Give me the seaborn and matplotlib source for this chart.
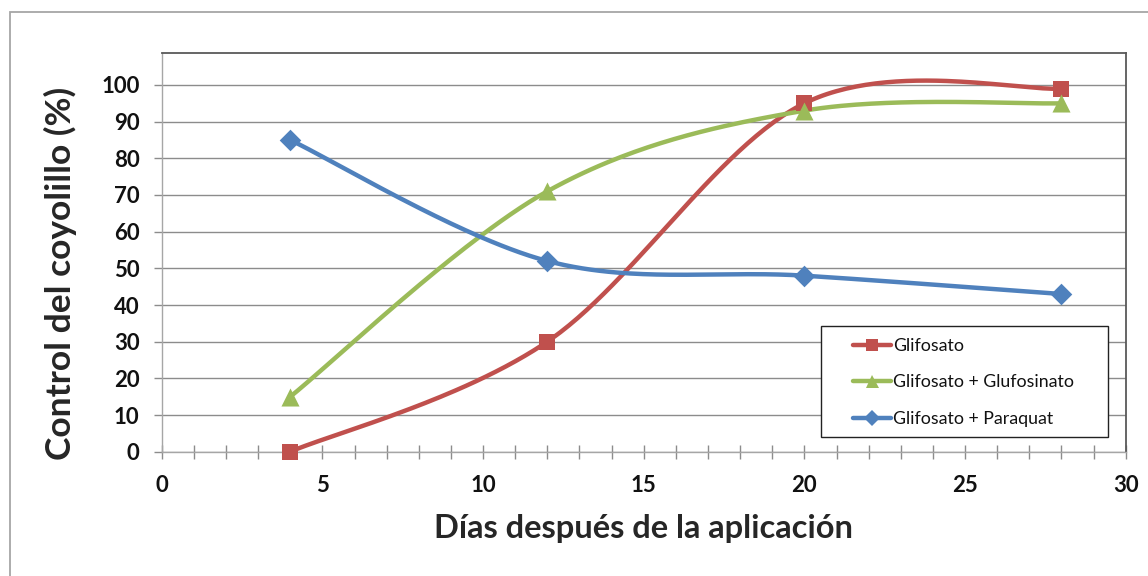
import numpy as np
import pandas as pd
import matplotlib
matplotlib.use("Agg")
import matplotlib.pyplot as plt
from matplotlib.lines import Line2D
from matplotlib.patches import Rectangle
from matplotlib.ticker import MultipleLocator
import seaborn as sns

# Days after application and weed control (%) for each treatment
dias = [4, 12, 20, 28]
glifosato = [0, 30, 95, 99]
glifosato_glufosinato = [15, 71, 93, 95]
glifosato_paraquat = [85, 52, 48, 43]

series_names = ["Glifosato", "Glifosato + Glufosinato", "Glifosato + Paraquat"]
series_values = [glifosato, glifosato_glufosinato, glifosato_paraquat]
colors = ["#C0504D", "#9BBB59", "#4F81BD"]
markers = ["s", "^", "D"]
marker_sizes = [12, 13, 11]

y_ticks = list(range(0, 101, 10))
x_ticks = list(range(0, 31, 5))


def smooth_curve(xs, ys, n=60):
    """Bezier smoothing through every point (Catmull-Rom style control points)."""
    pts = np.column_stack([xs, ys]).astype(float)
    ext = np.vstack([pts[0], pts, pts[-1]])
    out = []
    t = np.linspace(0, 1, n)[:, None]
    for i in range(len(pts) - 1):
        p0, p3 = ext[i + 1], ext[i + 2]
        c1 = p0 + (ext[i + 2] - ext[i]) / 6.0
        c2 = p3 - (ext[i + 3] - ext[i + 1]) / 6.0
        seg = ((1 - t) ** 3) * p0 + 3 * ((1 - t) ** 2) * t * c1 + 3 * (1 - t) * t ** 2 * c2 + t ** 3 * p3
        out.append(seg if i == 0 else seg[1:])
    seg = np.vstack(out)
    return seg[:, 0], seg[:, 1]


sns.set_theme(style="white")
plt.rcParams["font.family"] = ["Lato", "DejaVu Sans"]

fig = plt.figure(figsize=(11.48, 5.76), dpi=100)
W, H = 1148, 576
AX_L, AX_R, AX_T, AX_B = 161.7, 1125.7, 52.7, 451.7
ax = fig.add_axes([AX_L / W, 1 - AX_B / H, (AX_R - AX_L) / W, (AX_B - AX_T) / H])


def px_to_axes(x, y):
    return (x - AX_L) / (AX_R - AX_L), (AX_B - y) / (AX_B - AX_T)


# outer chart frame
fig.patches.append(Rectangle((9.5 / W, -0.05), 1.1, 1 - 12 / H + 0.05, transform=fig.transFigure,
                             fill=False, edgecolor="#A6A6A6", linewidth=1.3, zorder=0))

grid_color = "#8C8C8C"
for i, (name, vals) in enumerate(zip(series_names, series_values)):
    sx, sy = smooth_curve(dias, vals)
    curve = pd.DataFrame({"x": sx, "y": sy})
    sns.lineplot(data=curve, x="x", y="y", ax=ax, color=colors[i], linewidth=3.2,
                 sort=False, estimator=None, zorder=3 + i * 0.1)
    pts = pd.DataFrame({"x": dias, "y": vals})
    sns.scatterplot(data=pts, x="x", y="y", ax=ax, color=colors[i], marker=markers[i],
                    s=marker_sizes[i] ** 2, linewidth=0, zorder=4 + i * 0.1, clip_on=False)

ax.set_xlim(0, 30)
ax.set_ylim(0, 108.8)
ax.set_xticks(x_ticks)
ax.set_yticks(y_ticks)
ax.xaxis.set_minor_locator(MultipleLocator(1))
ax.yaxis.grid(True, color=grid_color, linewidth=1.0)
ax.xaxis.grid(False)
ax.set_axisbelow(True)

for side in ["top", "right"]:
    ax.spines[side].set_color("#595959")
    ax.spines[side].set_linewidth(1.3)
for side in ["left", "bottom"]:
    ax.spines[side].set_color("#A6A6A6")
    ax.spines[side].set_linewidth(1.0)

ax.tick_params(axis="x", which="both", direction="inout", length=9.5, width=1.0,
               color="#8C8C8C", bottom=True, pad=12)
ax.tick_params(axis="y", which="major", direction="out", length=6, width=1.0,
               color="#8C8C8C", left=True, pad=10)
for lab in ax.get_xticklabels() + ax.get_yticklabels():
    lab.set_fontweight("bold")
    lab.set_fontsize(16)
    lab.set_color("#111111")

ax.set_xlabel("Días después de la aplicación", fontsize=23.5, fontweight="bold", labelpad=13)
ax.set_ylabel("Control del coyolillo (%)", fontsize=25.5, fontweight="bold")
ax.yaxis.set_label_coords(px_to_axes(77, 0)[0], px_to_axes(0, 273)[1])

# legend box
bx0, by0 = px_to_axes(821, 437)
bx1, by1 = px_to_axes(1108, 326)
ax.add_patch(Rectangle((bx0, by0), bx1 - bx0, by1 - by0, transform=ax.transAxes,
                       facecolor="white", edgecolor="#222222", linewidth=1.0, zorder=6,
                       clip_on=False))

handles = [Line2D([0], [0], color=c, linewidth=3.2, marker=m, markersize=ms * 0.72,
                  markeredgewidth=0) for c, m, ms in zip(colors, markers, marker_sizes)]
leg = ax.legend(handles, series_names, loc="upper left",
                bbox_to_anchor=px_to_axes(853, 338),
                frameon=False, fontsize=12.8, handlelength=2.15, handletextpad=0.1,
                labelspacing=1.15, borderpad=0, borderaxespad=0)
leg.set_zorder(7)
for txt in leg.get_texts():
    txt.set_color("#111111")

fig.savefig("out.png", dpi=100)
